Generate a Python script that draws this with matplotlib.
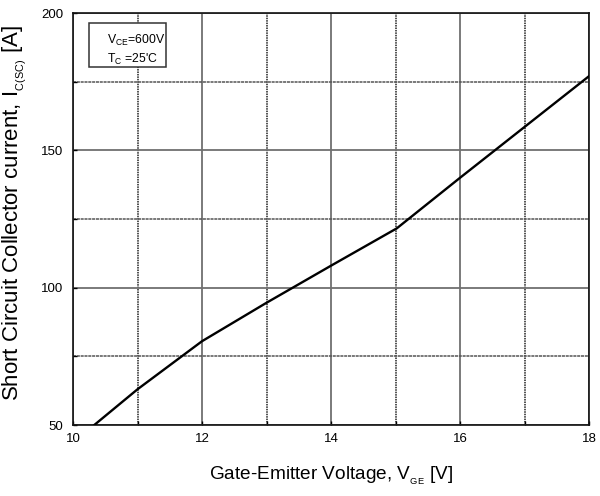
import matplotlib
matplotlib.use("Agg")
import matplotlib.pyplot as plt
from matplotlib.ticker import MultipleLocator
from matplotlib.patches import Rectangle

plt.rcParams['font.family'] = ['Liberation Sans', 'DejaVu Sans']
plt.rcParams['mathtext.fontset'] = 'custom'
plt.rcParams['mathtext.rm'] = 'Liberation Sans'

vge = [10.33, 11.0, 12.0, 13.0, 14.0, 15.02, 16.0, 17.0, 18.0]
isc = [50.0, 63.0, 80.5, 94.5, 108.0, 121.6, 140.0, 158.5, 177.0]

xticks = [10, 12, 14, 16, 18]
yticks = [50, 100, 150, 200]

fig = plt.figure(figsize=(6.0, 4.96), dpi=100)
ax = fig.add_axes([73/600, 1-425/496, 516/600, 412/496])

ax.set_xlim(10, 18)
ax.set_ylim(50, 200)
ax.set_xticks(xticks)
ax.set_yticks(yticks)
ax.xaxis.set_minor_locator(MultipleLocator(1))
ax.yaxis.set_minor_locator(MultipleLocator(25))

ax.grid(which='major', color='#707070', linewidth=1.3, linestyle='-')
ax.xaxis.grid(which='minor', color='#222222', linewidth=1.1, linestyle=(0, (1, 0.6)))
ax.yaxis.grid(which='minor', color='#555555', linewidth=1.1, linestyle=(0, (2, 0.5)))
ax.set_axisbelow(True)

ax.plot(vge, isc, color='black', linewidth=1.7, zorder=3)

ax.tick_params(which='both', direction='in', length=3, width=1, labelsize=9.5,
               top=False, right=False)
ax.tick_params(axis='y', pad=7)
ax.tick_params(axis='x', pad=6)
for s in ax.spines.values():
    s.set_linewidth(1.2)
    s.set_color('#111111')

ax.set_xlabel(r'Gate-Emitter Voltage, V$\mathregular{{}_{{}_{GE}}}$ [V]', fontsize=13.7)
ax.set_ylabel(r'Short Circuit Collector current, I$\mathregular{{}_{{}_{C(SC)}}}$ [A]', fontsize=16)
ax.xaxis.set_label_coords(0.5, -(476.7 + 3 - 425) / 412)
ax.xaxis.label.set_va('baseline')
ax.yaxis.set_label_coords((28 - 73) / 516, (425 - 213) / 412)

ax.add_patch(Rectangle((0.031, 0.869), 0.149, 0.107, transform=ax.transAxes,
                       facecolor='white', edgecolor='#333333', linewidth=1.1, zorder=4))
ax.text(0.066, 0.952, 'V$\\mathregular{_{CE}}$=600V\nT$\\mathregular{_{C}}$ =25\'C',
        transform=ax.transAxes, fontsize=8.8, ha='left', va='top', linespacing=1.35,
        zorder=5)

fig.savefig('out.png', dpi=100)
